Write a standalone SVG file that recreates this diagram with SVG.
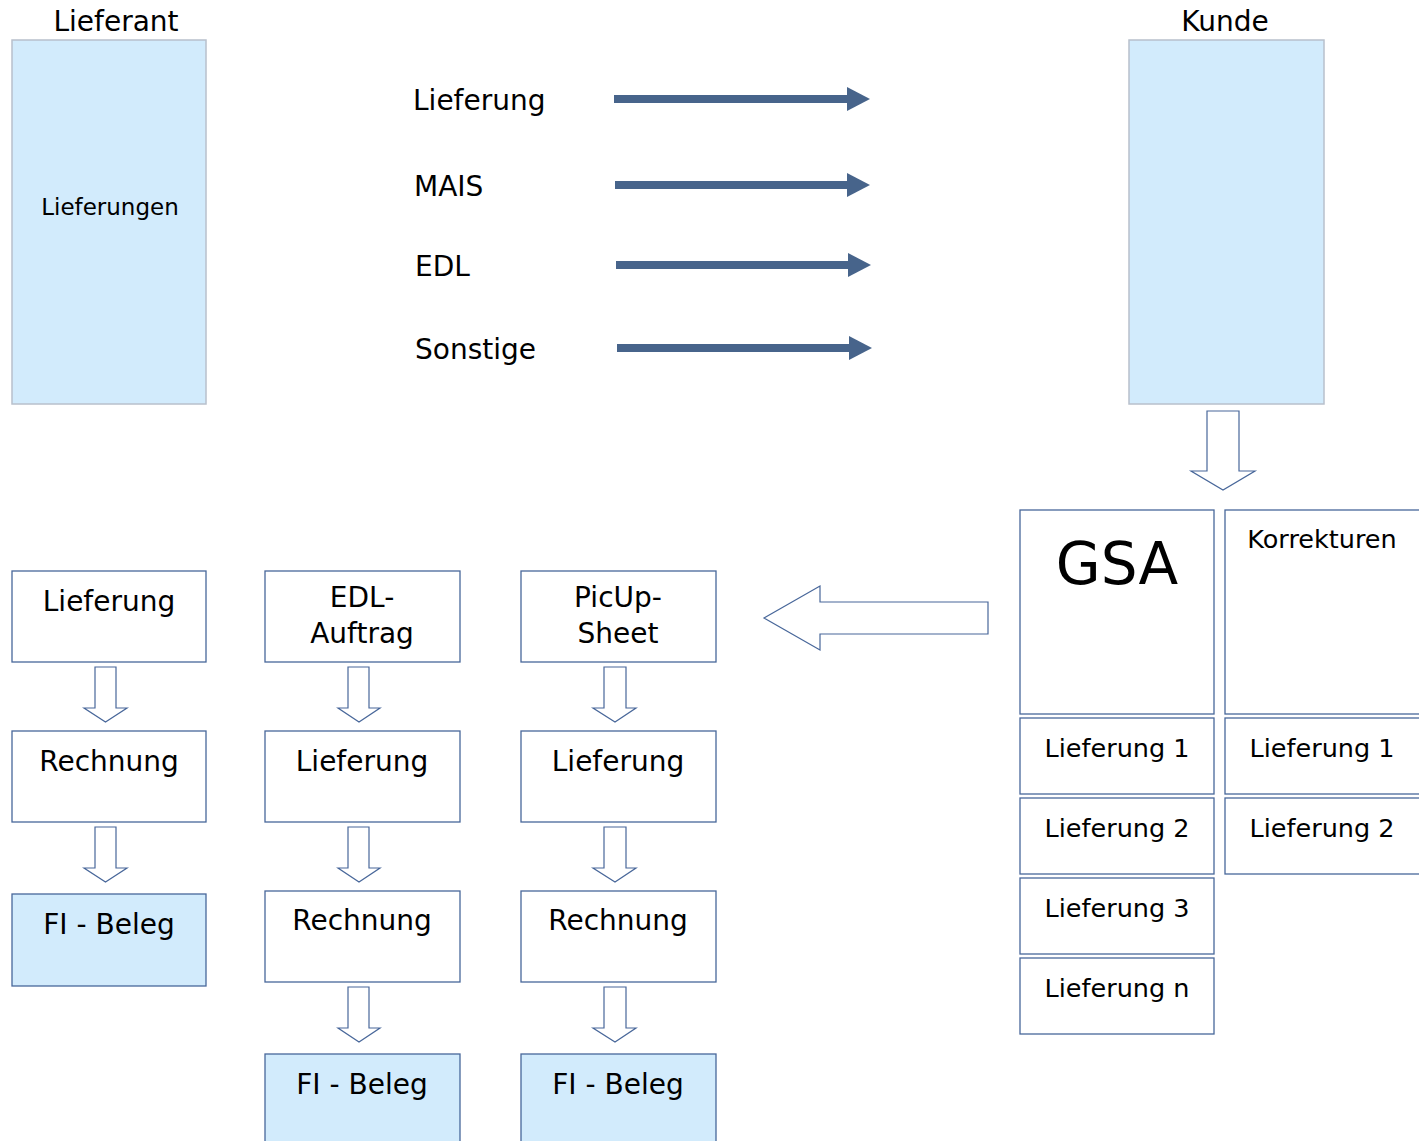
<svg xmlns="http://www.w3.org/2000/svg" width="1419" height="1141" viewBox="0 0 1419 1141">
<defs>
<style>
text{font-family:"DejaVu Sans","Liberation Sans",sans-serif;fill:#000;}
.t28{font-size:28px;}
.t26{font-size:25.5px;}
.c{text-anchor:middle;}
.big{fill:#d2ebfc;stroke:#b8c0cc;stroke-width:1.5;}
.box{fill:#fff;stroke:#48679a;stroke-width:1.3;}
.fi{fill:#d2ebfc;stroke:#48679a;stroke-width:1.3;}
.oarrow{fill:#fff;stroke:#48679a;stroke-width:1.2;stroke-linejoin:miter;}
.line{stroke:#47648b;stroke-width:8;fill:none;}
.head{fill:#47648b;}
</style>
</defs>
<g id="lieferant">
<rect class="big" x="12" y="40" width="194" height="364"/>
<text class="t28 c" x="116" y="31">Lieferant</text>
<text class="c" style="font-size:23px" x="110" y="215">Lieferungen</text>
</g>
<g id="kunde">
<rect class="big" x="1129" y="40" width="195" height="364"/>
<text class="t28 c" x="1225" y="31">Kunde</text>
</g>
<g id="labels">
<text class="t28" x="413" y="110">Lieferung</text>
<text class="t28" x="414" y="196">MAIS</text>
<text class="t28" x="415" y="276">EDL</text>
<text class="t28" x="415" y="359">Sonstige</text>
</g>
<g id="gsa">
<rect class="box" x="1020" y="510" width="194" height="204"/>
<text class="c" style="font-size:58px" x="1117" y="584">GSA</text>
</g>
<g id="korrekturen">
<rect class="box" x="1225" y="510" width="200" height="204"/>
<text class="t26 c" x="1322" y="548">Korrekturen</text>
</g>
<g id="gsa-l1"><rect class="box" x="1020" y="718" width="194" height="76"/><text class="t26 c" x="1117" y="757">Lieferung 1</text></g>
<g id="gsa-l2"><rect class="box" x="1020" y="798" width="194" height="76"/><text class="t26 c" x="1117" y="837">Lieferung 2</text></g>
<g id="gsa-l3"><rect class="box" x="1020" y="878" width="194" height="76"/><text class="t26 c" x="1117" y="917">Lieferung 3</text></g>
<g id="gsa-ln"><rect class="box" x="1020" y="958" width="194" height="76"/><text class="t26 c" x="1117" y="997">Lieferung n</text></g>
<g id="kor-l1"><rect class="box" x="1225" y="718" width="200" height="76"/><text class="t26 c" x="1322" y="757">Lieferung 1</text></g>
<g id="kor-l2"><rect class="box" x="1225" y="798" width="200" height="76"/><text class="t26 c" x="1322" y="837">Lieferung 2</text></g>
<g id="c1-lieferung"><rect class="box" x="12" y="571" width="194" height="91"/><text class="t28 c" x="109" y="611">Lieferung</text></g>
<g id="c1-rechnung"><rect class="box" x="12" y="731" width="194" height="91"/><text class="t28 c" x="109" y="771">Rechnung</text></g>
<g id="c1-fi"><rect class="fi" x="12" y="894" width="194" height="92"/><text class="t28 c" x="109" y="934">FI - Beleg</text></g>
<g id="c2-edl"><rect class="box" x="265" y="571" width="195" height="91"/><text class="t28 c" x="362" y="607">EDL-</text><text class="t28 c" x="362" y="643">Auftrag</text></g>
<g id="c2-lieferung"><rect class="box" x="265" y="731" width="195" height="91"/><text class="t28 c" x="362" y="771">Lieferung</text></g>
<g id="c2-rechnung"><rect class="box" x="265" y="891" width="195" height="91"/><text class="t28 c" x="362" y="930">Rechnung</text></g>
<g id="c2-fi"><rect class="fi" x="265" y="1054" width="195" height="100"/><text class="t28 c" x="362" y="1094">FI - Beleg</text></g>
<g id="c3-picup"><rect class="box" x="521" y="571" width="195" height="91"/><text class="t28 c" x="618" y="607">PicUp-</text><text class="t28 c" x="618" y="643">Sheet</text></g>
<g id="c3-lieferung"><rect class="box" x="521" y="731" width="195" height="91"/><text class="t28 c" x="618" y="771">Lieferung</text></g>
<g id="c3-rechnung"><rect class="box" x="521" y="891" width="195" height="91"/><text class="t28 c" x="618" y="930">Rechnung</text></g>
<g id="c3-fi"><rect class="fi" x="521" y="1054" width="195" height="100"/><text class="t28 c" x="618" y="1094">FI - Beleg</text></g>
<g id="connectors">
<line class="line" x1="614" y1="99" x2="848" y2="99"/><polygon class="head" points="847,87 870,99 847,111"/>
<line class="line" x1="615" y1="185" x2="848" y2="185"/><polygon class="head" points="847,173 870,185 847,197"/>
<line class="line" x1="616" y1="265" x2="849" y2="265"/><polygon class="head" points="848,253 871,265 848,277"/>
<line class="line" x1="617" y1="348" x2="850" y2="348"/><polygon class="head" points="849,336 872,348 849,360"/>
<polygon class="oarrow" points="1207,411 1239,411 1239,471 1255,471 1223,490 1191,471 1207,471"/>
<polygon class="oarrow" points="988,602 988,634 820,634 820,650 764,618 820,586 820,602"/>
<polygon class="oarrow" points="95,667 116,667 116,708 127,708 105.5,722 84,708 95,708"/>
<polygon class="oarrow" points="95,827 116,827 116,868 127,868 105.5,882 84,868 95,868"/>
<polygon class="oarrow" points="348,667 369,667 369,708 380,708 359,722 338,708 348,708"/>
<polygon class="oarrow" points="348,827 369,827 369,868 380,868 359,882 338,868 348,868"/>
<polygon class="oarrow" points="348,987 369,987 369,1028 380,1028 359,1042 338,1028 348,1028"/>
<polygon class="oarrow" points="604,667 626,667 626,708 636,708 615,722 593,708 604,708"/>
<polygon class="oarrow" points="604,827 626,827 626,868 636,868 615,882 593,868 604,868"/>
<polygon class="oarrow" points="604,987 626,987 626,1028 636,1028 615,1042 593,1028 604,1028"/>
</g>
</svg>
